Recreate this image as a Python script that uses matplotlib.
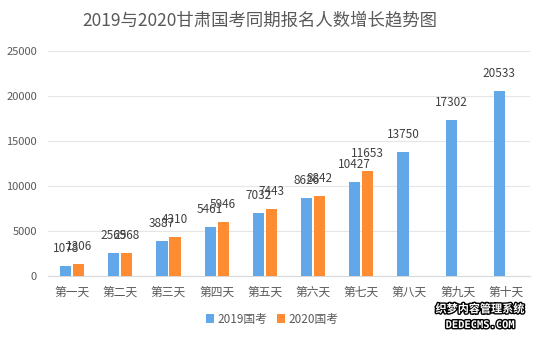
import matplotlib
matplotlib.use("Agg")
import matplotlib.pyplot as plt
import matplotlib.patheffects as pe
import numpy as np

plt.rcParams['font.family'] = ['Noto Sans CJK SC', 'DejaVu Sans']

categories = ["第一天", "第二天", "第三天", "第四天", "第五天", "第六天", "第七天", "第八天", "第九天", "第十天"]
values_2019 = [1078, 2569, 3887, 5461, 7032, 8626, 10427, 13750, 17302, 20533]
values_2020 = [1306, 2568, 4310, 5946, 7443, 8842, 11653]
series_names = ["2019国考", "2020国考"]
yticks = [0, 5000, 10000, 15000, 20000, 25000]
title = "2019与2020甘肃国考同期报名人数增长趋势图"

blue = "#62A8E8"
orange = "#FF8C32"
text_color = "#595959"

fig = plt.figure(figsize=(5.46, 3.40), dpi=100)
ax = fig.add_axes([0.0879, 0.1882, 0.8828, 0.6618])

x = np.arange(len(categories))
w = 0.23
x20 = np.arange(len(values_2020))
b1 = ax.bar(x - 0.135, values_2019, width=w, color=blue, label=series_names[0], zorder=3)
b2 = ax.bar(x20 + 0.135, values_2020, width=w, color=orange, label=series_names[1], zorder=3)

for bars, vals in ((b1, values_2019), (b2, values_2020)):
    for r, v in zip(bars, vals):
        ax.annotate(f"{v}", (r.get_x() + r.get_width() / 2, v), xytext=(0, 8),
                    textcoords="offset points", ha="center", va="bottom",
                    fontsize=8.5, color="#404040")

ax.set_xlim(-0.5, len(categories) - 0.5)
ax.set_ylim(0, 25000)
ax.set_yticks(yticks)
ax.set_yticklabels([str(t) for t in yticks])
ax.set_xticks(x)
ax.set_xticklabels(categories)
ax.tick_params(axis='both', length=0, colors=text_color)
ax.tick_params(axis='x', pad=7, labelsize=8.5)
ax.tick_params(axis='y', pad=8, labelsize=8)
ax.grid(axis='y', color="#E6E6E6", linewidth=0.8, zorder=0)
for s in ("top", "right", "left"):
    ax.spines[s].set_visible(False)
ax.spines["bottom"].set_color("#D9D9D9")

fig.text(260 / 546, 1 - 20 / 340, title, ha="center", va="center", fontsize=12.5, color=text_color)

leg = fig.legend(handles=[b1, b2], labels=series_names, loc="center", bbox_to_anchor=(272 / 546, 1 - 319 / 340),
                 ncol=2, frameon=False, fontsize=8.5, handlelength=0.7, handleheight=0.7,
                 handletextpad=0.3, columnspacing=0.8)
for t in leg.get_texts():
    t.set_color(text_color)

wm1 = fig.text(480 / 546, 1 - 309 / 340, "织梦内容管理系统", ha="center", va="center", fontsize=8,
               color="white", fontweight="bold")
wm1.set_path_effects([pe.withStroke(linewidth=2, foreground="black")])
wm2 = fig.text(480 / 546, 1 - 325 / 340, "DEDECMS.COM", ha="center", va="center", fontsize=7.5,
               color="white", fontweight="bold", family="DejaVu Sans Mono")
wm2.set_path_effects([pe.withStroke(linewidth=2, foreground="black")])

fig.savefig("out.png", dpi=100)
